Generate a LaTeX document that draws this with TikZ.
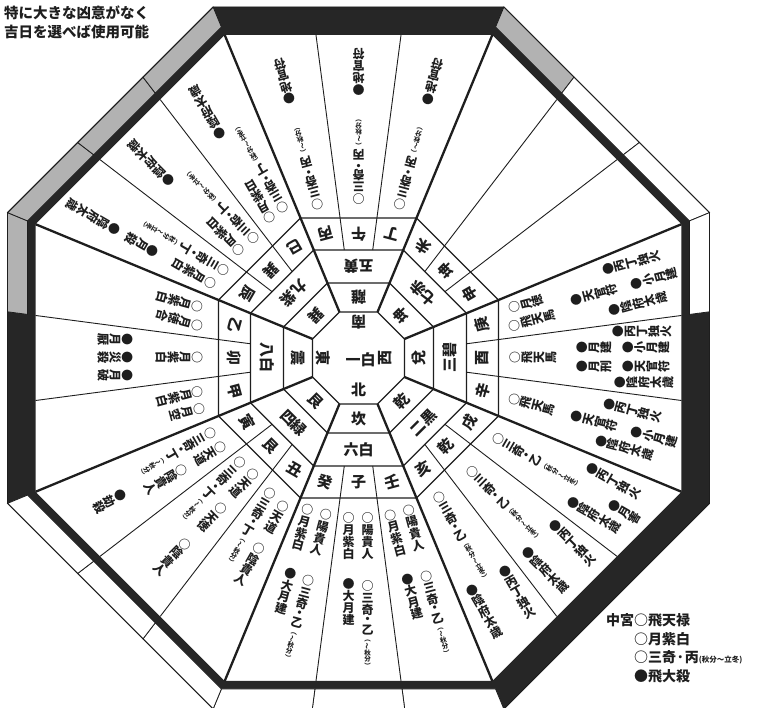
\documentclass[tikz,border=0pt]{standalone}
\usepackage{fontspec}
\usepackage{graphicx}
\usetikzlibrary{calc}
\newfontfamily\jp{Noto Sans CJK JP}
\definecolor{ink}{RGB}{30,30,30}
\definecolor{gry}{RGB}{178,178,178}
\definecolor{blk}{RGB}{38,38,38}
\newcommand\hd{x}
\def\hdmark{\hd}
\makeatletter
\newcommand\vst[1]{\vbox{\offinterlineskip\@tfor\vtok:=#1\do{\ifx\vtok\hdmark
  \hbox to 1em{\hss\vrule height .25em depth .25em width 0pt\lower.38em\hbox{・}\hss}\else
  \hbox to 1em{\hss\vrule height .88em depth .12em width 0pt\relax\vtok\hss}\fi}}}
\makeatother
\newcommand\an[1]{{\fontsize{6.5}{6.5}\selectfont\vst{#1}}}
\newcommand\wv{\rotatebox[origin=c]{90}{〜}}
\newcommand\oR{1.0823922}
\newcommand\octp[1]{(22.5:{#1*\oR}) -- (67.5:{#1*\oR}) -- (112.5:{#1*\oR}) -- (157.5:{#1*\oR}) -- (202.5:{#1*\oR}) -- (247.5:{#1*\oR}) -- (292.5:{#1*\oR}) -- (337.5:{#1*\oR}) -- cycle}
\newcommand\segp[4]{({#1-7.5}:{#3/cos(#1-7.5-(#2))}) -- ({#1+7.5}:{#3/cos(#1+7.5-(#2))}) -- ({#1+7.5}:{#4/cos(#1+7.5-(#2))}) -- ({#1-7.5}:{#4/cos(#1-7.5-(#2))}) -- cycle}
\newcounter{nc}
\newcommand\rc[4][0]{\stepcounter{nc}\node[txt, rotate={#2+90}, anchor=north] (t\arabic{nc}) at ($(C)+(#2:#3)+({#2+90}:#1)$) {\vst{#4}};}
\newcommand\sqa{\an{︵{\wv}秋分︶}}
\newcommand\sqb{\an{︵秋分{\wv}立冬︶}}
\tikzset{
  txt/.style={inner sep=0pt, text=ink, font=\jp\bfseries\fontsize{12}{12}\selectfont},
  rch/.style={inner sep=0pt, text=ink, font=\jp\bfseries\fontsize{15}{15}\selectfont},
  leg/.style={inner sep=0pt, text=ink, anchor=west, font=\jp\bfseries\fontsize{14.5}{14.5}\selectfont},
  lg2/.style={inner sep=0pt, text=ink, anchor=west, font=\jp\bfseries\fontsize{14}{14}\selectfont},
  ringline/.style={draw=ink, line width=1.3},
  thickrad/.style={draw=ink, line width=2.3},
  secline/.style={draw=ink, line width=0.9},
}
\begin{document}
\begin{tikzpicture}[x=1pt,y=1pt]
\useasboundingbox (0,0) rectangle (757,708);
\fill[white] (0,0) rectangle (757,708);
\coordinate (C) at (358.5,350);
% ---------- outer frame ----------
\fill[blk, even odd rule, shift={(C)}] \octp{351} \octp{323};
\foreach \p/\s/\c in {60/45/gry, 45/45/white, 30/45/white, 15/0/white,
   -75/-90/white, -90/-90/white, -105/-90/white,
   -120/-135/white, -135/-135/white, -150/-135/white,
   165/180/gry, 150/135/gry, 135/135/gry, 120/135/gry}
  \draw[ink, line width=0.8, fill=\c, shift={(C)}] \segp{\p}{\s}{331}{351};
\draw[ink, line width=0.9, shift={(C)}] \octp{351};
% ---------- rings ----------
\foreach \a in {46,75,108,140} \draw[ringline, shift={(C)}] \octp{\a};
\foreach \a in {22.5,67.5,...,337.5}
  \draw[thickrad] ($(C)+(\a:{46*\oR})$) -- ($(C)+(\a:{323*\oR})$);
\foreach \s in {0,45,...,315}{\foreach \d in {-7.5,7.5}{
  \draw[secline] ($(C)+({\s+\d}:{108/cos(7.5)})$) -- ($(C)+({\s+\d}:{323/cos(7.5)})$);}}
% ---------- centre ----------
\node[rch] (c1) at ($(C)+(2,-2)$) {一白};
\node[rch, rotate=180] (c2) at ($(C)+(90:36)$) {南};
\node[rch] (c3) at ($(C)+(270:32)$) {北};
\node[rch, rotate=270] (c4) at ($(C)+(180:35)$) {東};
\node[rch, rotate=90] (c5) at ($(C)+(0:27)$) {西};
% ring 2
\foreach \p/\nm in {90/離,45/坤,0/兌,-45/乾,-90/坎,-135/艮,180/震,135/巽}
  \node[rch, rotate={\p+90}] (r2\p) at ($(C)+(\p:60.5)$) {\nm};
% ring 3
\foreach \p/\nm in {90/五黄,45/七赤,0/三碧,-45/二黒,-90/六白,-135/四緑,180/八白,135/九紫}
  \node[rch, rotate={\p+90}] (r3\p) at ($(C)+(\p:91.5)$) {\nm};
% ring 4
\foreach \p/\s/\nm in {105/90/丙, 90/90/午, 75/90/丁, 60/45/未, 45/45/坤, 30/45/申,
  15/0/庚, 0/0/酉, -15/0/辛, -30/-45/戌, -45/-45/乾, -60/-45/亥,
  -75/-90/壬, -90/-90/子, -105/-90/癸, -120/-135/丑, -135/-135/艮, -150/-135/寅,
  195/180/甲, 180/180/卯, 165/180/乙, 150/135/辰, 135/135/巽, 120/135/巳}
  \node[rch, rotate={\p+90}] (r4\p) at ($(C)+(\p:{124/cos(\p-(\s))})$) {\nm};
% ---------- outer texts ----------
% South
\foreach \p in {105,90,75}{\rc{\p}{153}{○三奇\hd 丙{\sqa}} \rc{\p}{262}{●地官符}}
% South-east
\rc[9]{150}{160}{○月紫白} \rc[-9]{150}{155}{○三奇\hd 丁{\sqb}} \rc[10]{150}{226}{●月殺} \rc[10]{150}{270}{●陰府太歳}
\rc[8]{135}{155}{○月紫白} \rc[-10]{135}{153}{○三奇\hd 丁{\sqb}} \rc[9]{135}{254}{●陰府太歳}
\rc[7]{120}{160}{○月紫白} \rc[-10]{120}{162}{○三奇\hd 丁{\sqb}} \rc[8]{120}{258}{●陰府太歳}
% East
\rc[10]{165}{158}{○月徳合} \rc[-8]{165}{163}{○月紫白}
\rc{180}{155}{○月紫白} \rc[-18]{180}{225}{●月厭} \rc{180}{225}{●災殺} \rc[18]{180}{225}{●月破}
\rc[8]{195}{161}{○月空} \rc[-9]{195}{158}{○月紫白}
% North-east
\rc[9]{210}{158}{○天道} \rc[9]{210}{203}{○陰貴人} \rc[-9]{210}{160}{○三奇\hd 丁{\sqa}} \rc{210}{269}{●劫殺}
\rc[8]{225}{151}{○天道} \rc[9]{225}{198}{○天徳} \rc[9]{225}{248}{○陰貴人} \rc[-10]{225}{152}{○三奇\hd 丁{\sqa}}
\rc[9]{240}{160}{○天道} \rc[9]{240}{209}{○陰貴人} \rc[-9]{240}{155}{○三奇\hd 丁{\sqa}}
% North
\foreach \p in {255,270,285}{\rc[9]{\p}{154}{○陽貴人} \rc[-10]{\p}{154}{○月紫白}
  \rc[-10]{\p}{220}{●大月建} \rc[9]{\p}{222}{○三奇\hd 乙{\sqa}}}
% North-west
\foreach \p in {300,315,330}{\rc{\p}{155}{○三奇\hd 乙{\sqb}} \rc[21]{\p}{252}{●丙丁独火} \rc[-18]{\p}{252}{●陰府太歳}}
\rc{330}{289}{●月害}
% West
\rc[9]{15}{158}{○月徳} \rc[-9]{15}{153}{○飛天馬} \rc{15}{220}{●天官符} \rc[21]{15}{258}{●丙丁独火} \rc[-20]{15}{254}{●陰府太歳} \rc{15}{282}{●小月建}
\rc{0}{150}{○飛天馬} \rc[10]{0}{217}{●月建} \rc[-9]{0}{217}{●月刑} \rc[26]{0}{253}{●丙丁独火} \rc[10]{0}{263}{●小月建} \rc[-9]{0}{263}{●天官符} \rc[-25]{0}{255}{●陰府太歳}
\rc{-15}{155}{○飛天馬} \rc{-15}{220}{●天官符} \rc[20]{-15}{248}{●丙丁独火} \rc[-18]{-15}{250}{●陰府太歳} \rc{-15}{282}{●小月建}
% ---------- legends ----------
\node[leg] (L1) at (4,695) {特に大きな凶意がなく};
\node[leg] (L2) at (4,676) {吉日を選べば使用可能};
\node[lg2] (K1) at (606,88) {中宮○飛天禄};
\node[lg2] (K2) at (634,69) {○月紫白};
\node[lg2] (K3) at (634,51) {○三奇·丙{\fontsize{7.5}{7.5}\selectfont(秋分〜立冬)}};
\node[lg2] (K4) at (634,32) {●飛大殺};
\end{tikzpicture}
\end{document}
